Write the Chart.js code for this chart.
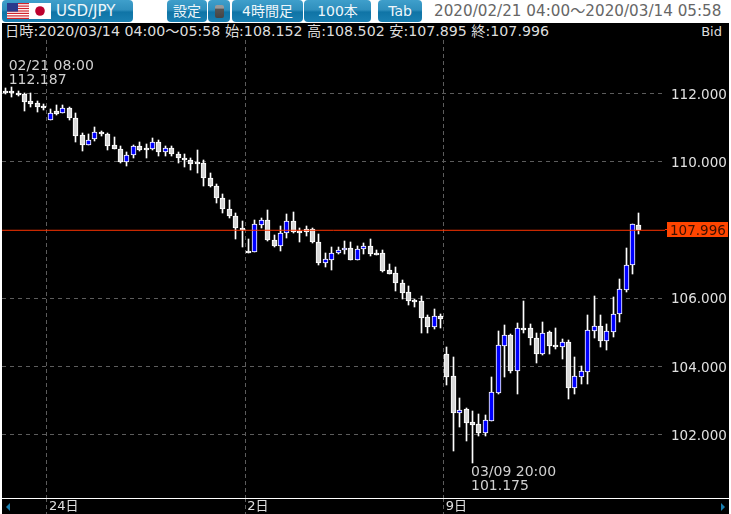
<!DOCTYPE html>
<html lang="ja">
<head>
<meta charset="utf-8">
<script src="https://cdn.jsdelivr.net/npm/chart.js@4"></script>
<style>
    * { box-sizing: border-box; }
    html, body { margin: 0; padding: 0; background: #fff; overflow: hidden; }
    body { width: 731px; height: 514px; position: relative; font-family: "DejaVu Sans", "Noto Sans CJK JP", sans-serif; }

    /* toolbar */
    .btn {
        position: absolute; top: 0; height: 22px; border-radius: 4px;
        background: linear-gradient(#3f9fcb 0%, #2f8fbd 45%, #0f74a6 55%, #1a80b2 100%);
        color: #eef6fa; font-size: 14px; line-height: 22px; text-align: center;
    }
    .flag { position: absolute; top: 3px; }
    #range { position: absolute; left: 434px; top: 1px; font-size: 15.2px; line-height: 20px; color: #666; white-space: nowrap; }

    /* info row above the plot */
    #info { position: absolute; left: 2px; top: 23px; width: 727px; height: 17px; background: #000; color: #ddd; font-size: 14.2px; line-height: 17px; white-space: nowrap; }
    #info .ohlc { position: absolute; left: 3px; }
    #info .bid { position: absolute; right: 7px; font-size: 13px; }

    #chart { position: absolute; left: 2px; top: 40px; background: #000; }
    #axisline { position: absolute; left: 2px; top: 498px; width: 727px; height: 1px; background: #fff; }
    .arrow { position: absolute; top: 503px; width: 0; height: 0; border-top: 4px solid transparent; border-bottom: 4px solid transparent; }
</style>
</head>
<body>
<div class="btn" style="left:2px;width:131px;text-align:left;padding-left:54px;font-size:15px">USD/JPY</div>
<svg class="flag" style="left:7px" width="22" height="16" viewBox="0 0 22 16">
    <rect width="22" height="16" fill="#fff"/>
    <g fill="#d2232a">
        <rect y="0" width="22" height="1.2"/><rect y="2.5" width="22" height="1.2"/><rect y="4.9" width="22" height="1.2"/>
        <rect y="7.4" width="22" height="1.2"/><rect y="9.8" width="22" height="1.2"/><rect y="12.3" width="22" height="1.2"/><rect y="14.8" width="22" height="1.2"/>
    </g>
    <rect width="11" height="8.6" fill="#2b3a8c"/>
</svg>
<svg class="flag" style="left:29px" width="22" height="16" viewBox="0 0 22 16">
    <rect width="22" height="16" fill="#fff"/>
    <circle cx="11" cy="8" r="4.8" fill="#bc002d"/>
</svg>
<div class="btn" style="left:167px;width:40px">設定</div>
<div class="btn" style="left:208px;width:22px"></div>
<div style="position:absolute;left:215px;top:5px;width:9px;height:13px;border-radius:2px;background:linear-gradient(#999 25%,#555 30%,#444)"></div>
<div class="btn" style="left:232px;width:71px">4時間足</div>
<div class="btn" style="left:304px;width:67px">100本</div>
<div class="btn" style="left:378px;width:44px">Tab</div>
<div id="range">2020/02/21 04:00〜2020/03/14 05:58</div>

<div id="info">
    <span class="ohlc">日時:2020/03/14 04:00〜05:58 始:108.152 高:108.502 安:107.895 終:107.996</span>
    <span class="bid">Bid</span>
</div>

<canvas id="chart" width="727" height="474"></canvas>
<div id="axisline"></div>
<div class="arrow" style="left:6px;border-right:4px solid #1a7fb0"></div>
<div class="arrow" style="left:721px;border-left:4px solid #1a7fb0"></div>

<script>
    // 4 hour candles, oldest first
    const opens = [
        112.07, 112.09, 112.02, 112.00, 111.80, 111.72, 111.64, 111.23, 111.48, 111.45,
        111.59, 111.30, 110.78, 110.51, 110.66, 110.89, 110.83, 110.50, 110.39, 109.99,
        110.20, 110.48, 110.40, 110.38, 110.59, 110.28, 110.42, 110.24, 110.12, 110.07,
        109.98, 109.96, 109.54, 109.30, 108.95, 108.63, 108.42, 108.07, 107.38, 107.36,
        108.15, 108.29, 107.72, 107.54, 107.93, 108.28, 107.98, 108.02, 108.02, 107.66,
        107.04, 107.13, 107.34, 107.42, 107.49, 107.13, 107.45, 107.55, 107.32, 107.32,
        106.82, 106.74, 106.46, 106.18, 105.95, 105.92, 105.44, 105.16, 105.47, 104.38,
        103.71, 102.65, 102.75, 102.37, 102.31, 102.06, 102.41, 103.23, 104.61, 104.94,
        103.87, 105.13, 105.12, 104.85, 104.37, 105.01, 104.63, 104.58, 104.73, 103.38,
        103.70, 103.85, 105.05, 105.20, 104.75, 105.01, 105.55, 106.24, 106.99, 108.152
    ];
    const highs = [
        112.16, 112.187, 112.07, 112.01, 112.03, 111.78, 111.69, 111.54, 111.68, 111.66,
        111.61, 111.44, 110.86, 110.83, 111.02, 110.90, 110.85, 110.72, 110.47, 110.29,
        110.51, 110.58, 110.53, 110.71, 110.63, 110.48, 110.48, 110.30, 110.24, 110.12,
        110.36, 110.07, 109.68, 109.34, 109.07, 108.87, 108.50, 108.27, 107.75, 108.29,
        108.37, 108.58, 107.85, 108.13, 108.48, 108.54, 108.05, 108.13, 108.07, 107.90,
        107.34, 107.51, 107.51, 107.68, 107.66, 107.54, 107.61, 107.75, 107.43, 107.41,
        107.02, 106.92, 106.53, 106.36, 105.99, 106.06, 105.52, 105.70, 105.55, 104.58,
        104.29, 103.07, 102.79, 102.70, 102.61, 102.57, 103.68, 105.03, 105.23, 104.95,
        105.29, 105.91, 105.26, 104.99, 105.32, 105.03, 105.14, 104.82, 104.79, 104.27,
        104.03, 105.50, 106.08, 105.50, 105.26, 106.03, 106.57, 107.49, 108.19, 108.502
    ];
    const lows = [
        111.99, 111.90, 111.92, 111.49, 111.61, 111.46, 111.51, 111.22, 111.38, 111.44,
        111.23, 110.58, 110.33, 110.50, 110.61, 110.76, 110.35, 110.37, 109.98, 109.88,
        110.12, 110.32, 110.12, 110.36, 110.18, 110.18, 110.18, 109.98, 109.85, 109.77,
        109.675, 109.30, 109.26, 108.80, 108.51, 108.37, 107.74, 107.51, 107.32, 107.35,
        108.07, 107.68, 107.51, 107.39, 107.78, 107.92, 107.66, 107.84, 107.61, 106.98,
        106.92, 106.84, 107.31, 107.29, 107.12, 107.12, 107.29, 107.25, 107.28, 106.78,
        106.71, 106.22, 105.97, 105.81, 105.75, 104.99, 104.99, 105.09, 105.14, 103.47,
        101.51, 102.24, 101.81, 101.175, 101.97, 101.96, 102.40, 103.19, 103.70, 103.82,
        103.20, 104.99, 104.64, 104.09, 104.35, 104.38, 104.52, 104.23, 103.05, 103.21,
        103.50, 103.50, 104.84, 104.56, 104.50, 104.87, 105.31, 106.19, 106.71, 107.895
    ];
    const closes = [
        112.01, 112.01, 111.96, 111.77, 111.69, 111.60, 111.58, 111.45, 111.42, 111.59,
        111.29, 110.76, 110.51, 110.65, 110.89, 110.81, 110.46, 110.38, 109.99, 110.21,
        110.48, 110.34, 110.34, 110.59, 110.28, 110.42, 110.23, 110.11, 110.05, 109.94,
        109.94, 109.53, 109.29, 108.94, 108.62, 108.41, 108.06, 107.99, 107.32, 108.17,
        108.31, 107.71, 107.54, 107.93, 108.28, 107.96, 107.92, 107.94, 107.65, 107.04,
        107.14, 107.34, 107.43, 107.49, 107.13, 107.46, 107.55, 107.30, 107.26, 106.80,
        106.72, 106.45, 106.16, 105.93, 105.89, 105.43, 105.16, 105.47, 105.40, 103.70,
        102.65, 102.74, 102.35, 102.29, 102.05, 102.42, 103.24, 104.62, 104.94, 103.87,
        105.12, 105.07, 104.84, 104.37, 104.98, 104.61, 104.57, 104.73, 103.38, 103.71,
        103.86, 105.06, 105.20, 104.75, 105.03, 105.55, 106.26, 106.99, 108.17, 107.996
    ];

    const priceTicks = [102, 104, 106, 108, 110, 112];
    // the day lines fall between two candles
    const dayTicks = [6.5, 37.5, 68.5];
    const dayLabels = ['24日', '2日', '9日'];

    const lastPrice = 107.996;
    const highNote = { index: 1, price: 112.187, date: '02/21 08:00', text: '112.187' };
    const lowNote = { index: 73, price: 101.175, date: '03/09 20:00', text: '101.175' };

    const indexes = opens.map((_, i) => i);
    const xMin = -0.516, xMax = 103.08;

    // snap bars to whole pixels so the 1px wicks stay sharp
    const snapBars = {
        id: 'snapBars',
        beforeDatasetsDraw(chart) {
            chart.getSortedVisibleDatasetMetas().forEach(meta => {
                if (meta.type !== 'bar') return;
                meta.data.forEach(bar => {
                    bar.x = Math.floor(bar.x) + 0.5;
                    bar.y = Math.round(bar.y);
                    bar.base = Math.round(bar.base);
                });
            });
        }
    };

    // last price tag and the high/low notes
    const priceNotes = {
        id: 'priceNotes',
        afterDatasetsDraw(chart) {
            const { ctx, scales: { x, y } } = chart;
            const font = '14px "DejaVu Sans", "Noto Sans CJK JP", sans-serif';
            ctx.save();
            ctx.font = font;
            ctx.textBaseline = 'middle';
            ctx.textAlign = 'left';

            const tagY = Math.round(y.getPixelForValue(lastPrice));
            ctx.fillStyle = '#ff3300';
            ctx.fillRect(x.right, tagY - 1, 2, 1);
            ctx.fillStyle = '#ff4500';
            ctx.fillRect(x.right + 2, tagY - 8, 61, 15);
            ctx.fillStyle = '#3a1000';
            ctx.font = '13.5px "DejaVu Sans", sans-serif';
            ctx.fillText(lastPrice.toFixed(3), x.right + 5, tagY + 1);

            ctx.font = font;
            ctx.fillStyle = '#d0d0d0';
            const hx = x.getPixelForValue(highNote.index) - 3;
            const hy = y.getPixelForValue(highNote.price);
            ctx.fillText(highNote.date, hx, hy - 21);
            ctx.fillText(highNote.text, hx, hy - 7);
            const lx = x.getPixelForValue(lowNote.index) - 1.5;
            const ly = y.getPixelForValue(lowNote.price);
            ctx.fillText(lowNote.date, lx, ly + 9);
            ctx.fillText(lowNote.text, lx, ly + 23);
            ctx.restore();
        }
    };

    new Chart(document.getElementById('chart'), {
        type: 'bar',
        data: {
            datasets: [
                {
                    type: 'line',
                    data: [{ x: xMin, y: lastPrice }, { x: xMax, y: lastPrice }],
                    borderColor: '#ff3300',
                    borderWidth: 1,
                    pointRadius: 0
                },
                {
                    // candle bodies
                    data: indexes.map(i => ({ x: i, y: [opens[i], closes[i]] })),
                    backgroundColor: indexes.map(i => closes[i] > opens[i] ? '#0000ff' : '#d8d8d8'),
                    borderColor: '#ffffff',
                    borderWidth: 1,
                    borderSkipped: false,
                    barThickness: 5,
                    minBarLength: 2,
                    grouped: false
                },
                {
                    // wicks
                    data: indexes.map(i => ({ x: i, y: [lows[i], highs[i]] })),
                    backgroundColor: '#ffffff',
                    borderWidth: 0,
                    barThickness: 1,
                    grouped: false
                }
            ]
        },
        options: {
            responsive: false,
            animation: false,
            events: [],
            layout: { padding: 0 },
            plugins: { legend: { display: false }, tooltip: { enabled: false } },
            scales: {
                x: {
                    type: 'linear',
                    min: xMin,
                    max: xMax,
                    offset: false,
                    afterBuildTicks: scale => { scale.ticks = dayTicks.map(v => ({ value: v })); },
                    afterFit: scale => {
                        scale.height = 16;
                        scale.paddingLeft = 0;
                        scale.paddingRight = 0;
                    },
                    border: { display: false, dash: [4, 3] },
                    grid: {
                        offset: false,
                        color: '#5c5c5c',
                        tickColor: '#5c5c5c',
                        tickBorderDash: [4, 3],
                        tickLength: 16
                    },
                    ticks: {
                        autoSkip: false,
                        maxRotation: 0,
                        align: 'start',
                        padding: -15,
                        labelOffset: 2,
                        color: '#e0e0e0',
                        font: { family: '"DejaVu Sans", "Noto Sans CJK JP", sans-serif', size: 13 },
                        callback: (v) => dayLabels[dayTicks.indexOf(v)]
                    }
                },
                y: {
                    type: 'linear',
                    position: 'right',
                    min: 100.146,
                    max: 113.576,
                    afterBuildTicks: scale => { scale.ticks = priceTicks.map(v => ({ value: v })); },
                    afterFit: scale => {
                        scale.width = 64;
                        scale.paddingTop = 0;
                        scale.paddingBottom = 0;
                    },
                    border: { display: false, dash: [4, 4] },
                    grid: {
                        color: (c) => c.tick && c.tick.value === 108 ? 'rgba(0,0,0,0)' : '#5c5c5c',
                        drawTicks: false
                    },
                    ticks: {
                        autoSkip: false,
                        padding: 6,
                        labelOffset: 1.5,
                        color: (c) => c.tick.value === 108 ? 'rgba(0,0,0,0)' : '#e0e0e0',
                        font: { family: '"DejaVu Sans", sans-serif', size: 13.5 },
                        callback: (v) => v.toFixed(3)
                    }
                }
            }
        },
        plugins: [snapBars, priceNotes]
    });
</script>
</body>
</html>
